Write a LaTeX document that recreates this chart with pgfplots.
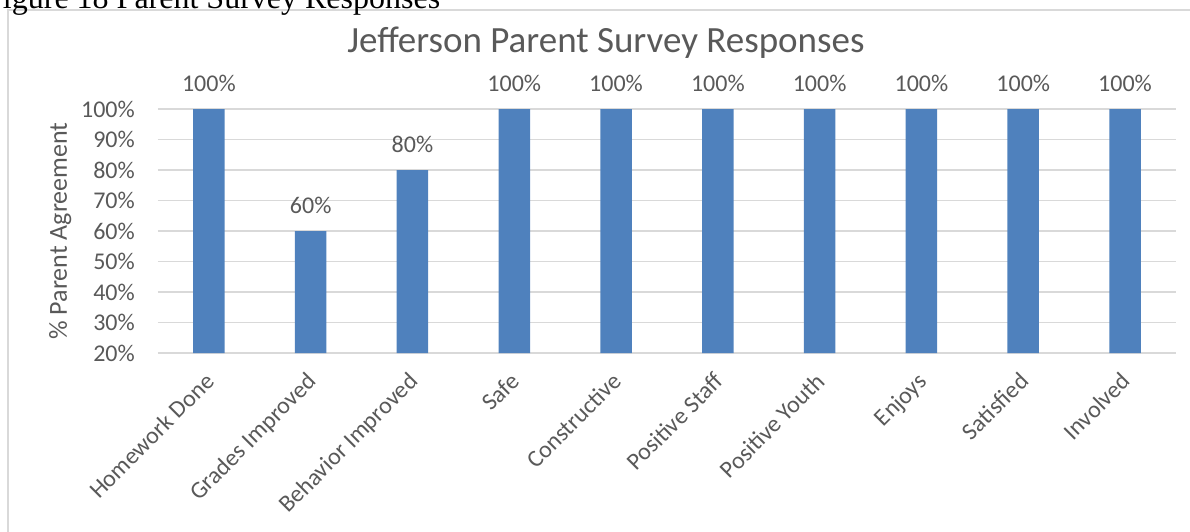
\documentclass[border=0pt]{standalone}
\usepackage{fontspec}
\setmainfont{Carlito}
\newfontfamily\capfont{Liberation Serif}
\usepackage{pgfplots}
\pgfplotsset{compat=1.18}
\definecolor{barblue}{HTML}{4F81BD}
\definecolor{gridgray}{HTML}{D9D9D9}
\definecolor{txtgray}{HTML}{595959}
\begin{document}
\begin{tikzpicture}
\begin{axis}[
  at={(0pt,0pt)}, anchor=south west,
  scale only axis, width=1018pt, height=244pt,
  xmin=-0.5, xmax=9.5, ymin=20, ymax=100,
  enlargelimits=false, clip=false,
  axis line style={draw=none},
  major tick length=0pt,
  ymajorgrids, grid style={gridgray, line width=1.3pt},
  ytick={20,30,40,50,60,70,80,90,100},
  yticklabels={20\%,30\%,40\%,50\%,60\%,70\%,80\%,90\%,100\%},
  yticklabel style={font=\fontsize{24}{28}\selectfont, text=txtgray, inner sep=0pt, xshift=-23pt},
  xtick={0,...,9},
  xticklabels={Homework Done,Grades Improved,Behavior Improved,Safe,Constructive,Positive Staff,Positive Youth,Enjoys,Satisfied,Involved},
  xticklabel style={font=\fontsize{24}{28}\selectfont, text=txtgray, inner sep=0pt, xshift=-5pt, yshift=-18pt, rotate=45, anchor=north east},
  ylabel={\% Parent Agreement},
  ylabel style={font=\fontsize{26}{30}\selectfont, text=txtgray, at={(axis description cs:-0.0894,0.5)}, anchor=base, inner sep=0pt},
  title={Jefferson Parent Survey Responses},
  title style={font=\fontsize{37}{42}\selectfont, text=txtgray, at={(axis description cs:0.440,1.209)}, anchor=base, inner sep=0pt},
  nodes near coords={\pgfmathprintnumber[assume math mode=true]{\pgfplotspointmeta}\%},
  every node near coord/.append style={font=\fontsize{24}{28}\selectfont, text=txtgray, anchor=south, inner sep=0pt, yshift=17pt},
]
\addplot[ybar, bar width=31.5pt, fill=barblue, draw=none] coordinates {
  (0,100) (1,60) (2,80) (3,100) (4,100) (5,100) (6,100) (7,100) (8,100) (9,100)
};
\end{axis}
\draw[gridgray, line width=1.5pt] (-150pt,-200pt) -- (-150pt,343pt) -- (1060pt,343pt);
\node[anchor=base west, inner sep=0pt, font=\capfont\fontsize{32}{36}\selectfont] at (-173pt,344.5pt) {Figure 18 Parent Survey Responses};
\pgfresetboundingbox
\useasboundingbox (-158pt,353pt) rectangle (1032pt,-178pt);
\end{tikzpicture}
\end{document}
